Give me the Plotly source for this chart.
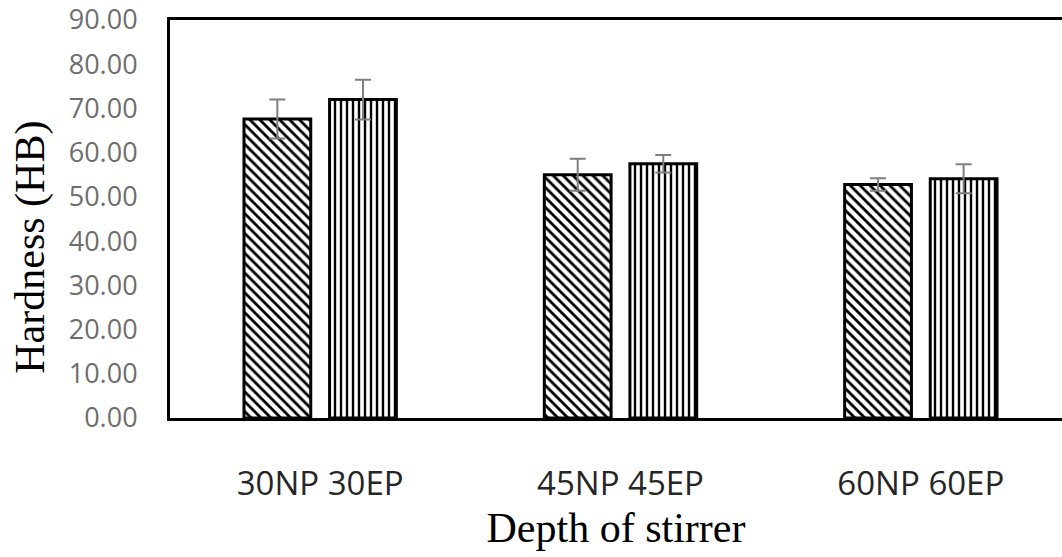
import plotly.graph_objects as go

categories = ["30NP 30EP", "45NP 45EP", "60NP 60EP"]
np_values = [67.6, 55.0, 52.8]
np_errors = [4.4, 3.6, 1.4]
ep_values = [72.0, 57.5, 54.1]
ep_errors = [4.5, 2.0, 3.3]
y_ticks = [0, 10, 20, 30, 40, 50, 60, 70, 80, 90]

fig = go.Figure()
fig.add_trace(go.Bar(
    x=categories, y=np_values, name="NP",
    marker=dict(
        color="white",
        line=dict(color="black", width=3),
        pattern=dict(shape="\\", fgcolor="black", bgcolor="white", size=7, solidity=0.4, fillmode="replace"),
    ),
    error_y=dict(type="data", array=np_errors, visible=True, color="#7f7f7f", thickness=2, width=8),
))
fig.add_trace(go.Bar(
    x=categories, y=ep_values, name="EP",
    marker=dict(
        color="white",
        line=dict(color="black", width=3),
        pattern=dict(shape="|", fgcolor="black", bgcolor="white", size=6, solidity=0.4, fillmode="replace"),
    ),
    error_y=dict(type="data", array=ep_errors, visible=True, color="#7f7f7f", thickness=2, width=8),
))

fig.update_layout(
    width=1062, height=557,
    margin=dict(l=170, r=0, t=20, b=139),
    paper_bgcolor="white", plot_bgcolor="white",
    barmode="group", bargap=0.43, bargroupgap=0.22,
    showlegend=False,
    xaxis=dict(
        type="category", range=[-0.5, 2.47],
        showline=True, linecolor="black", linewidth=2.5, mirror=True,
        showgrid=False, ticks="",
        tickfont=dict(family="Open Sans", size=33, color="#262626"),
        ticklabelstandoff=35,
        title=dict(text="Depth of stirrer", font=dict(family="Liberation Serif", size=42, color="black"), standoff=0),
    ),
    yaxis=dict(
        range=[0, 90], tickvals=y_ticks, tickformat=".2f",
        showline=True, linecolor="black", linewidth=3,
        showgrid=False, zeroline=False, ticks="",
        tickfont=dict(family="Open Sans", size=27, color="#6e6e6e"),
        ticklabelstandoff=24,
    ),
    annotations=[dict(
        text="Hardness (HB)", textangle=-90,
        xref="paper", yref="paper", x=-0.156, y=0.43,
        xanchor="center", yanchor="middle", showarrow=False,
        font=dict(family="Liberation Serif", size=42, color="black"),
    )],
)

fig.write_html("out.html", config={"displayModeBar": False},
               post_script="document.body.style.margin='0';")
